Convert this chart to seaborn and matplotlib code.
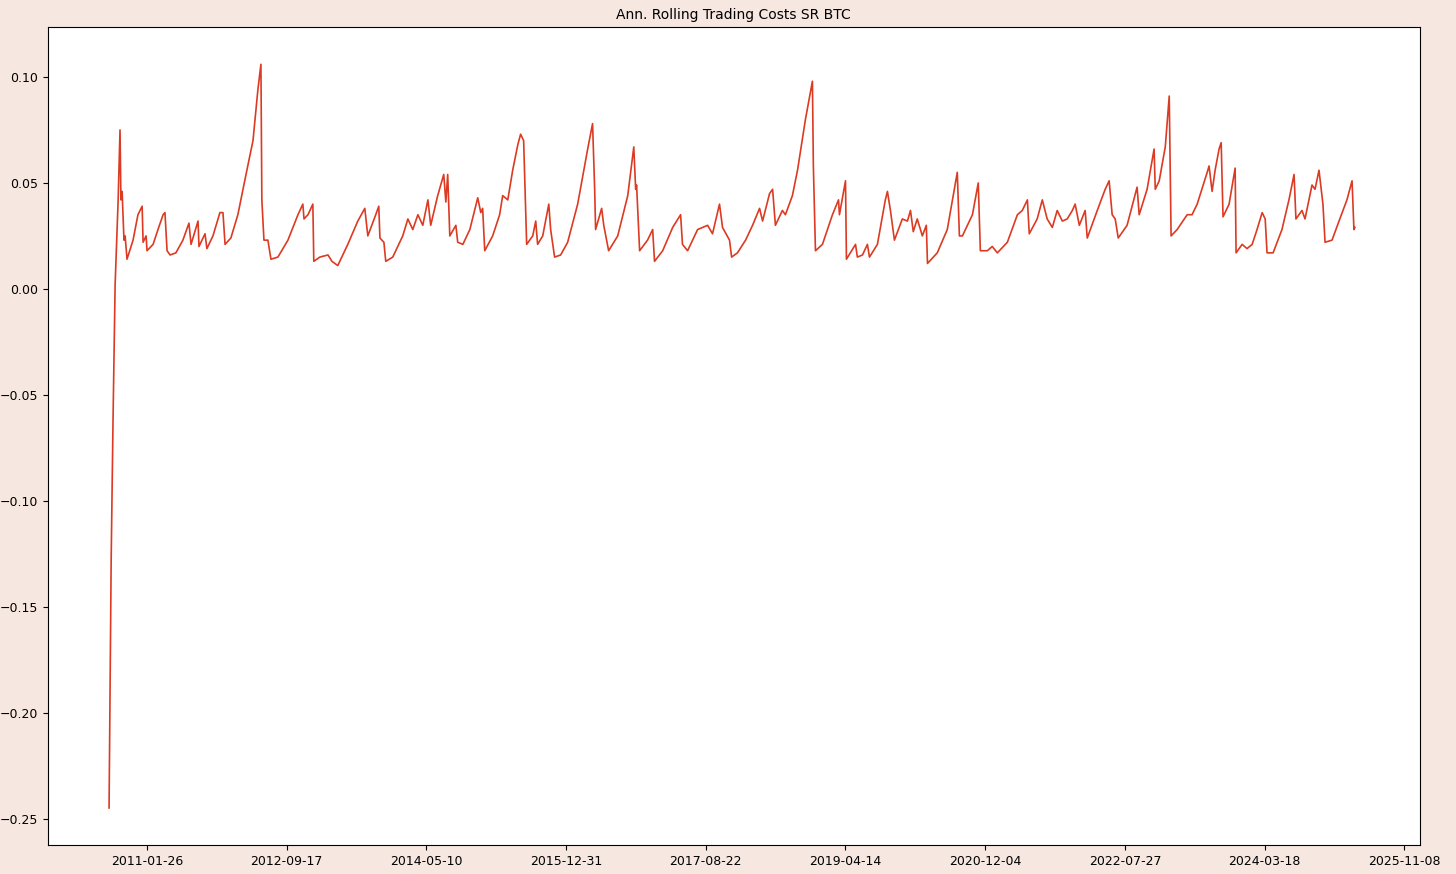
import pandas as pd
import matplotlib
matplotlib.use("Agg")
import matplotlib.pyplot as plt
import matplotlib.dates as mdates
import seaborn as sns

start_date = "2010-08-17"
day_offsets = [
    0, 9, 17, 26, 39, 47, 51, 56, 64, 69, 77, 103, 124, 142, 146, 159, 163, 189, 210, 232,
    240, 249, 262, 287, 317, 343, 352, 382, 386, 412, 420, 446, 476, 489, 498, 523, 553, 588, 618, 639,
    652, 656, 665, 682, 695, 725, 768, 811, 832, 837, 854, 875, 879, 905, 940, 957, 982, 1025, 1068, 1098,
    1111, 1145, 1158, 1163, 1180, 1188, 1218, 1261, 1283, 1304, 1326, 1347, 1369, 1381, 1411, 1437, 1446, 1454, 1463, 1489,
    1497, 1519, 1549, 1583, 1596, 1604, 1613, 1647, 1677, 1690, 1712, 1733, 1755, 1767, 1780, 1785, 1793, 1819, 1832, 1840,
    1862, 1888, 1896, 1913, 1939, 1969, 2012, 2055, 2076, 2085, 2089, 2115, 2124, 2145, 2184, 2227, 2253, 2261, 2265, 2278,
    2312, 2334, 2342, 2377, 2420, 2454, 2462, 2484, 2527, 2570, 2591, 2621, 2634, 2664, 2673, 2698, 2733, 2763, 2793, 2806,
    2836, 2849, 2861, 2891, 2904, 2934, 2956, 2990, 3020, 3024, 3033, 3063, 3106, 3132, 3136, 3162, 3166, 3205, 3213, 3235,
    3256, 3265, 3299, 3333, 3342, 3355, 3372, 3406, 3428, 3441, 3453, 3470, 3492, 3509, 3514, 3556, 3599, 3642, 3651, 3664,
    3707, 3732, 3741, 3771, 3792, 3814, 3857, 3900, 3921, 3943, 3951, 3985, 4007, 4028, 4050, 4071, 4093, 4114, 4136, 4148,
    4166, 4191, 4200, 4243, 4277, 4294, 4307, 4320, 4333, 4371, 4414, 4423, 4457, 4487, 4492, 4509, 4535, 4552, 4560, 4586,
    4629, 4650, 4672, 4715, 4723, 4736, 4749, 4766, 4775, 4783, 4809, 4835, 4839, 4865, 4886, 4908, 4929, 4951, 4964, 4972,
    4998, 5036, 5066, 5088, 5096, 5122, 5135, 5165, 5178, 5195, 5212, 5221, 5251, 5281, 5315, 5337, 5345, 5349,
]
cost_sr = [
    -0.245, -0.128, -0.062, 0.002, 0.042, 0.075, 0.042, 0.046, 0.023, 0.025, 0.014, 0.023, 0.035, 0.039, 0.022, 0.025, 0.018, 0.021, 0.028, 0.035,
    0.036, 0.018, 0.016, 0.017, 0.023, 0.031, 0.021, 0.032, 0.020, 0.026, 0.019, 0.025, 0.036, 0.036, 0.021, 0.024, 0.035, 0.054, 0.070, 0.094,
    0.106, 0.042, 0.023, 0.023, 0.014, 0.015, 0.023, 0.035, 0.040, 0.033, 0.035, 0.040, 0.013, 0.015, 0.016, 0.013, 0.011, 0.021, 0.032, 0.038,
    0.025, 0.035, 0.039, 0.024, 0.022, 0.013, 0.015, 0.025, 0.033, 0.028, 0.035, 0.030, 0.042, 0.030, 0.044, 0.054, 0.041, 0.054, 0.025, 0.030,
    0.022, 0.021, 0.028, 0.043, 0.036, 0.038, 0.018, 0.025, 0.035, 0.044, 0.042, 0.056, 0.068, 0.073, 0.070, 0.051, 0.021, 0.025, 0.032, 0.021,
    0.025, 0.040, 0.028, 0.015, 0.016, 0.022, 0.040, 0.066, 0.078, 0.047, 0.028, 0.038, 0.030, 0.018, 0.025, 0.044, 0.067, 0.047, 0.049, 0.018,
    0.023, 0.028, 0.013, 0.018, 0.029, 0.035, 0.021, 0.018, 0.028, 0.030, 0.026, 0.040, 0.029, 0.023, 0.015, 0.017, 0.023, 0.030, 0.038, 0.032,
    0.045, 0.047, 0.030, 0.037, 0.035, 0.044, 0.056, 0.080, 0.098, 0.058, 0.018, 0.021, 0.035, 0.042, 0.035, 0.051, 0.014, 0.021, 0.015, 0.016,
    0.021, 0.015, 0.021, 0.042, 0.046, 0.037, 0.023, 0.033, 0.032, 0.037, 0.027, 0.033, 0.025, 0.030, 0.012, 0.017, 0.028, 0.055, 0.025, 0.025,
    0.035, 0.050, 0.018, 0.018, 0.020, 0.017, 0.022, 0.035, 0.037, 0.042, 0.026, 0.033, 0.042, 0.033, 0.029, 0.037, 0.032, 0.033, 0.037, 0.040,
    0.030, 0.037, 0.024, 0.037, 0.047, 0.051, 0.035, 0.033, 0.024, 0.030, 0.048, 0.035, 0.047, 0.066, 0.047, 0.051, 0.067, 0.091, 0.025, 0.028,
    0.035, 0.035, 0.040, 0.055, 0.058, 0.046, 0.056, 0.066, 0.069, 0.034, 0.040, 0.057, 0.017, 0.021, 0.019, 0.021, 0.028, 0.036, 0.033, 0.017,
    0.017, 0.028, 0.042, 0.054, 0.033, 0.037, 0.033, 0.049, 0.047, 0.056, 0.040, 0.022, 0.023, 0.032, 0.042, 0.051, 0.028, 0.029,
]

tick_dates = pd.date_range("2011-01-26", periods=10, freq="600D")

df = pd.DataFrame({
    "date": pd.to_datetime(start_date) + pd.to_timedelta(day_offsets, unit="D"),
    "sr": cost_sr,
})

fig, ax = plt.subplots(figsize=(14.56, 8.74), dpi=100)
fig.patch.set_facecolor("#f6e8e1")
ax.set_facecolor("white")

sns.lineplot(data=df, x="date", y="sr", color="#dc3a22", linewidth=1.2, ax=ax)

ax.set_title("Ann. Rolling Trading Costs SR BTC", fontsize=10)
ax.set_xlabel("")
ax.set_ylabel("")
ax.set_xlim(pd.Timestamp("2009-11-28"), pd.Timestamp("2026-01-12"))
ax.set_xticks(tick_dates)
ax.xaxis.set_major_formatter(mdates.DateFormatter("%Y-%m-%d"))
ax.tick_params(labelsize=9)

plt.subplots_adjust(left=0.033, right=0.975, top=0.969, bottom=0.033)
plt.savefig("out.png", dpi=100, facecolor=fig.get_facecolor())
plt.close()
